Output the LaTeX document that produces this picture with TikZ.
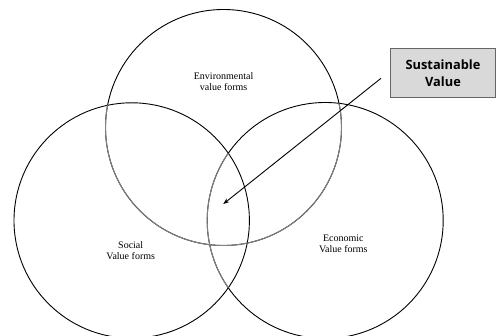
\documentclass[tikz,border=0pt]{standalone}
\usepackage{fontspec}
\setmainfont{Liberation Serif}
\newfontfamily\boxfont{Open Sans}
\usetikzlibrary{arrows.meta}
\begin{document}
\begin{tikzpicture}[x=1pt,y=-1pt,
  ring/.style={draw=black,line width=0.9pt},
  faint/.style={draw=black!50,line width=1pt},
  lbl/.style={font=\fontsize{10}{11}\selectfont,align=center,inner sep=0pt},
  keybox/.style={draw=black!60,line width=0.9pt,fill=black!15,minimum width=105pt,minimum height=49pt,align=center,
    font=\boxfont\bfseries\fontsize{12.8}{16.5}\selectfont}]
\useasboundingbox (0,0) rectangle (496,336);
\coordinate (ce) at (223.5,127.5);
\coordinate (cs) at (131.7,220.5);
\coordinate (cc) at (325.2,220.5);
% circles
\draw[ring] (ce) circle (118);
\draw[ring] (cs) circle (117.7);
\draw[ring] (cc) circle (118);
\begin{scope}
  \clip (cs) circle (117.7) (cc) circle (118);
  \draw[faint] (ce) circle (118);
\end{scope}
\begin{scope}
  \clip (cs) circle (117.7);
  \draw[faint] (cc) circle (118);
\end{scope}
% labels
\node[lbl] (env) at (223.6,82) {Environmental\\value forms};
\node[lbl] (soc) at (130.7,251) {Social\\Value forms};
\node[lbl] (eco) at (343.3,244) {Economic\\Value forms};
% box
\node[keybox] (sv) at (443,73) {Sustainable\\Value};
\coordinate (s) at (381,78.3);
\coordinate (t) at (223.3,204);
\draw[line width=0.9pt,-{Stealth[length=6pt,width=4.5pt]}] (s) -- (t);
\end{tikzpicture}
\end{document}
